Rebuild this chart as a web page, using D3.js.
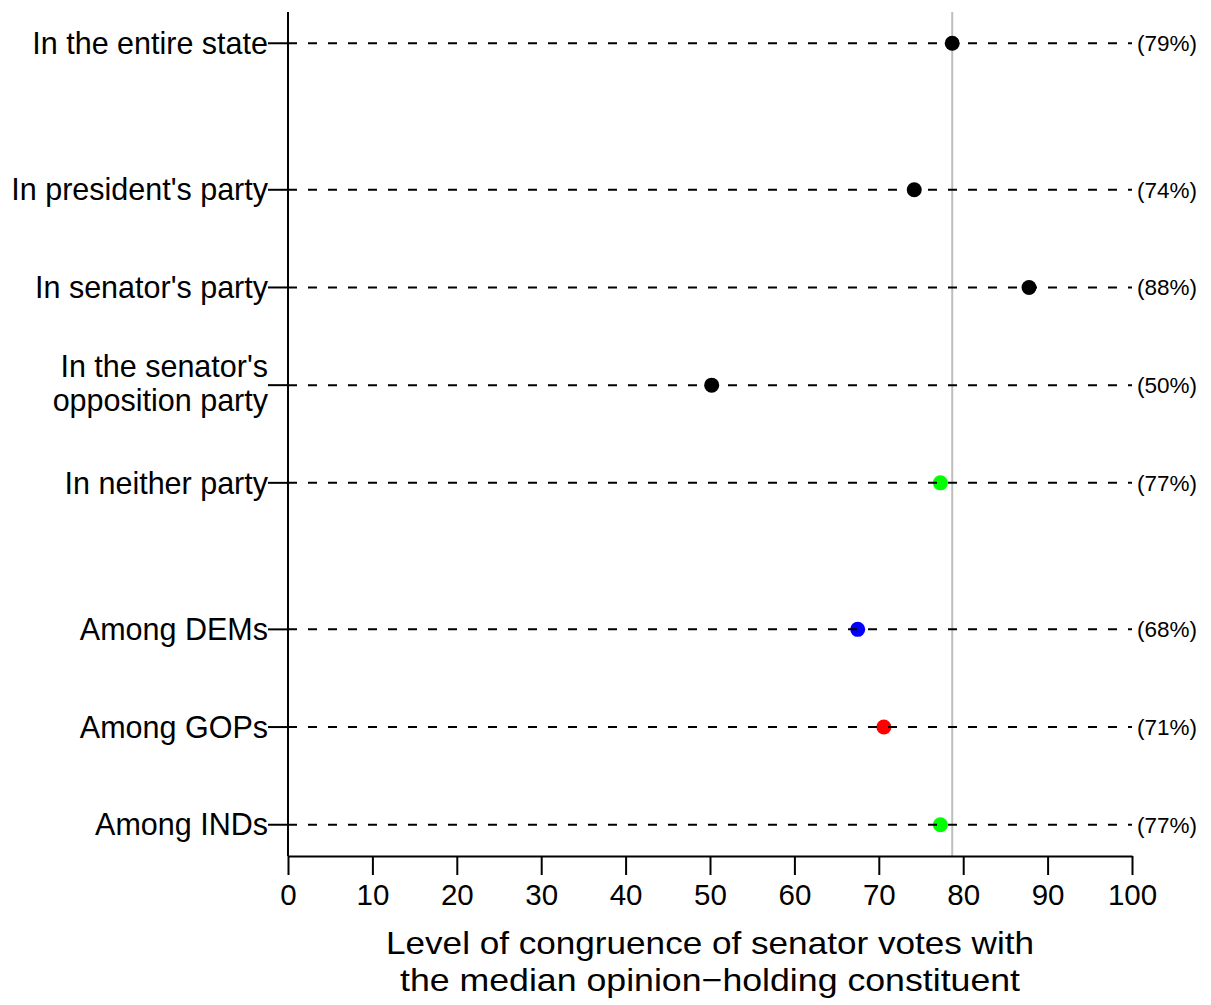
<!DOCTYPE html>
<html><head><meta charset="utf-8">
<script src="https://cdn.jsdelivr.net/npm/d3@7"></script>
<style>body{margin:0;background:#fff}svg{display:block;font-family:"Liberation Sans",Arial,sans-serif}</style>
</head><body>
<script>
const labels = [["In the entire state"],["In president's party"],["In senator's party"],["In the senator's","opposition party"],["In neither party"],["Among DEMs"],["Among GOPs"],["Among INDs"]];
const positions = [1, 2.5, 3.5, 4.5, 5.5, 7, 8, 9];
const values = [78.7, 74.2, 87.8, 50.2, 77.3, 67.5, 70.6, 77.3];
const pctLabels = ["(79%)","(74%)","(88%)","(50%)","(77%)","(68%)","(71%)","(77%)"];
const dotColors = ["#000000","#000000","#000000","#000000","#00ff00","#0000ff","#ff0000","#00ff00"];
const refValue = 78.7;
const xTicks = [0,10,20,30,40,50,60,70,80,90,100];
const titleLines = ["Level of congruence of senator votes with","the median opinion\u2212holding constituent"];

const W=1211,H=1005;
const svg=d3.select("body").append("svg").attr("width",W).attr("height",H);
const x=d3.scaleLinear().domain([0,100]).range([288,1132]);
const y=d3.scaleLinear().domain([0.68,9.32]).range([12,856]);

// reference line
svg.append("line").attr("x1",x(refValue)).attr("x2",x(refValue)).attr("y1",y(0.68)).attr("y2",y(9.32))
  .attr("stroke","#bebebe").attr("stroke-width",2);

// dots
svg.selectAll("circle.dot").data(values).enter().append("circle")
  .attr("cx",d=>x(d)).attr("cy",(d,i)=>y(positions[i])).attr("r",7.5)
  .attr("fill",(d,i)=>dotColors[i]);

// dashed lines
svg.selectAll("line.dash").data(positions).enter().append("line")
  .attr("x1",x(0)).attr("x2",x(100)).attr("y1",d=>y(d)).attr("y2",d=>y(d))
  .attr("stroke","#000").attr("stroke-width",2).attr("stroke-dasharray","9,11");

// pct labels
svg.selectAll("text.pct").data(pctLabels).enter().append("text")
  .attr("x",x(100)+5).attr("y",(d,i)=>y(positions[i])).attr("dy","0.35em")
  .attr("font-size",22.5).text(d=>d);

// y axis
svg.append("line").attr("x1",x(0)).attr("x2",x(0)).attr("y1",y(0.68)).attr("y2",y(9.32)).attr("stroke","#000").attr("stroke-width",2);
svg.selectAll("line.ytick").data(positions).enter().append("line")
  .attr("x1",x(0)-20).attr("x2",x(0)).attr("y1",d=>y(d)).attr("y2",d=>y(d)).attr("stroke","#000").attr("stroke-width",2);
labels.forEach((lines,i)=>{
  const t=svg.append("text").attr("x",x(0)-20).attr("text-anchor","end").attr("font-size",30.5);
  const n=lines.length, lh=34;
  lines.forEach((l,j)=>{
    t.append("tspan").attr("x",x(0)-20).attr("y",y(positions[i])+(j-(n-1)/2)*lh-(n>1?2:0)).attr("dy","0.35em").text(l);
  });
});

// x axis
const xa=svg.append("g").attr("transform",`translate(0,${y(9.32)})`)
  .call(d3.axisBottom(x).tickValues(xTicks).tickSize(19).tickPadding(9).tickSizeOuter(0));
xa.select(".domain").attr("stroke-width",2);
xa.selectAll(".tick line").attr("stroke-width",2);
xa.selectAll("text").attr("font-size",29.5).attr("font-family","Liberation Sans, Arial, sans-serif");

const titleWidths=[648,620];
svg.selectAll("text.title").data(titleLines).enter().append("text")
  .attr("x",x(50)).attr("y",(d,i)=>954+i*37).attr("text-anchor","middle")
  .attr("font-size",32).attr("textLength",(d,i)=>titleWidths[i]).attr("lengthAdjust","spacingAndGlyphs").text(d=>d);
</script>
</body></html>
